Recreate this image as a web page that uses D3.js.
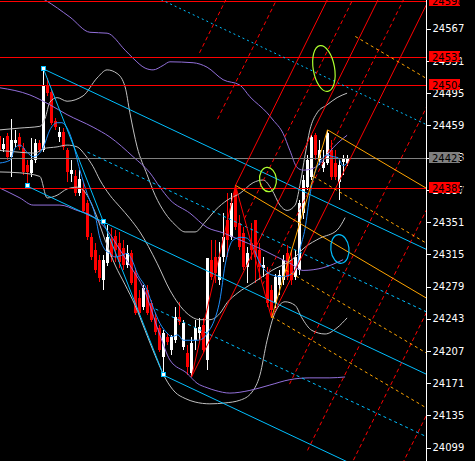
<!DOCTYPE html>
<html><head><meta charset="utf-8">
<script src="https://cdn.jsdelivr.net/npm/d3@7"></script>
<style>html,body{margin:0;padding:0;background:#000;overflow:hidden}</style>
</head><body>
<svg id="c" width="475" height="461"></svg>
<script>
// ---------- DATA ----------
const opens  = [24447,24433,24447,24424,24439,24446,24434,24415,24406,24420,24439,24431,24504,24496,24464,24446,24452,24431,24405,24402,24383,24387,24372,24334,24320,24309,24286,24305,24332,24335,24328,24322,24303,24316,24294,24266,24256,24275,24261,24244,24233,24200,24223,24208,24219,24245,24211,24205,24182,24219,24227,24236,24197,24309,24312,24286,24312,24353,24334,24387,24350,24339,24301,24328,24353,24320,24300,24294,24275,24261,24281,24286,24316,24309,24290,24297,24361,24390,24401,24448,24420,24411,24417,24431,24417,24396,24418,24417];
const highs  = [24450,24445,24450,24466,24454,24450,24439,24420,24445,24444,24443,24522,24512,24498,24467,24457,24456,24434,24420,24409,24409,24396,24376,24339,24328,24314,24314,24348,24344,24342,24340,24331,24325,24320,24300,24275,24281,24281,24264,24250,24236,24230,24227,24225,24256,24262,24242,24214,24223,24242,24244,24244,24311,24331,24331,24329,24361,24383,24383,24392,24359,24345,24323,24350,24353,24328,24312,24301,24281,24293,24297,24314,24325,24320,24320,24376,24404,24426,24448,24450,24443,24431,24454,24443,24431,24420,24426,24426];
const lows   = [24428,24429,24420,24401,24435,24431,24404,24391,24401,24417,24429,24429,24492,24459,24454,24440,24431,24396,24396,24380,24380,24361,24331,24309,24294,24284,24275,24302,24306,24306,24300,24297,24300,24281,24247,24247,24253,24247,24239,24225,24206,24180,24214,24202,24216,24236,24208,24180,24178,24208,24219,24206,24186,24286,24283,24281,24306,24312,24331,24342,24320,24297,24283,24309,24283,24286,24290,24256,24244,24255,24270,24281,24286,24281,24286,24292,24355,24387,24398,24420,24415,24407,24415,24398,24398,24376,24404,24414];
const closes = [24431,24438,24424,24443,24443,24435,24407,24407,24420,24439,24431,24504,24495,24462,24457,24452,24435,24407,24409,24383,24399,24363,24334,24312,24297,24288,24309,24334,24312,24320,24306,24303,24317,24283,24249,24250,24277,24250,24242,24228,24208,24227,24217,24223,24245,24239,24238,24189,24216,24233,24234,24208,24311,24290,24294,24312,24334,24331,24372,24345,24323,24301,24316,24320,24312,24301,24303,24261,24253,24290,24292,24309,24290,24286,24312,24372,24398,24420,24446,24426,24431,24418,24450,24401,24401,24415,24422,24423];

const priceTicks = [24567,24531,24495,24459,24423,24387,24351,24315,24279,24243,24207,24171,24135,24099];
const redLevels  = [24598,24535,24504,24389];
const lastPrice  = 24423;

// indicator curves: [bar, price]
const maFast = [[0.1,24417],[2.6,24420],[3.9,24434],[5.1,24437],[6.9,24429],[8.4,24424],[9.6,24426],[10.9,24434],[12.6,24454],[14.4,24462],[15.6,24462],[16.9,24456],[18.1,24443],[20.1,24409],[21.9,24383],[23.9,24359],[25.1,24333],[26.4,24320],[27.6,24316],[28.9,24312],[30.6,24314],[31.9,24316],[33.1,24309],[34.4,24294],[36.9,24275],[38.4,24256],[40.1,24238],[41.9,24227],[43.1,24223],[44.6,24225],[45.9,24219],[47.6,24219],[49.4,24219],[50.9,24221],[52.1,24228],[53.4,24238],[55.1,24264],[56.4,24303],[58.4,24331],[60.4,24334],[61.9,24333],[63.4,24323],[65.1,24305],[66.9,24295],[68.9,24291],[70.6,24290],[72.6,24292],[74.4,24303],[75.1,24320],[76.4,24344],[77.6,24381],[78.9,24407],[80.1,24418],[81.9,24426],[83.4,24424],[84.6,24423],[85.9,24414],[86.9,24417]];
const bbUpper = [[0.1,24454],[5.1,24456],[10.1,24458],[11.4,24467],[12.6,24485],[14.4,24490],[16.9,24486],[20.9,24492],[24.4,24512],[26.9,24521],[29.4,24517],[31.4,24502],[32.6,24473],[34.4,24435],[36.9,24404],[38.9,24381],[41.4,24361],[43.9,24348],[46.4,24340],[48.9,24340],[51.4,24351],[53.9,24364],[57.1,24376],[60.1,24383],[63.4,24395],[65.9,24398],[68.1,24387],[70.1,24370],[71.9,24364],[73.9,24370],[75.1,24392],[76.4,24426],[77.6,24454],[79.4,24473],[81.9,24482],[84.4,24490],[86.9,24495]];
const bbMid = [[0.1,24431],[5.1,24429],[8.9,24428],[10.9,24433],[14.4,24435],[16.9,24437],[19.4,24435],[21.4,24426],[23.4,24413],[25.1,24398],[27.6,24381],[30.1,24368],[32.6,24355],[35.1,24340],[39.4,24305],[42.6,24275],[46.9,24249],[50.1,24242],[52.6,24242],[55.1,24249],[56.9,24261],[59.6,24272],[63.4,24283],[68.1,24297],[73.1,24309],[76.4,24323],[80.1,24333],[84.4,24342],[86.4,24356]];
const bbLower = [[0.1,24407],[5.1,24406],[10.1,24402],[11.9,24378],[14.4,24381],[16.9,24388],[19.4,24390],[21.9,24381],[23.9,24362],[26.4,24331],[28.9,24303],[31.4,24281],[33.9,24258],[36.4,24230],[38.9,24202],[41.4,24177],[43.9,24161],[46.4,24154],[48.9,24150],[52.6,24148],[56.4,24149],[60.1,24152],[63.1,24161],[65.1,24180],[66.9,24219],[68.9,24250],[71.4,24262],[73.9,24258],[75.6,24244],[78.1,24230],[81.4,24226],[84.4,24233],[86.9,24244]];
const envUpper = [[0.1,24621],[7.6,24608],[11.4,24599],[17.6,24580],[22.6,24563],[26.9,24562],[31.4,24543],[33.4,24534],[36.4,24523],[38.4,24521],[40.9,24526],[42.6,24530],[48.4,24529],[51.9,24524],[55.9,24510],[60.1,24504],[62.6,24491],[66.9,24473],[68.4,24465],[70.9,24450],[72.6,24431],[74.4,24412],[75.9,24409],[78.4,24411],[80.9,24420],[83.4,24434],[86.9,24448]];
const envMid = [[0.1,24501],[7.6,24493],[12.6,24482],[16.9,24471],[23.4,24457],[27.6,24446],[33.4,24424],[37.6,24406],[40.1,24390],[42.6,24376],[47.6,24361],[51.9,24345],[55.9,24339],[60.1,24331],[64.4,24323],[69.4,24312],[72.6,24305],[75.9,24297],[80.9,24300],[85.9,24309]];
const envLower = [[0.1,24389],[5.1,24378],[8.4,24370],[15.1,24370],[19.4,24364],[23.4,24357],[26.9,24342],[30.1,24320],[33.4,24297],[35.9,24278],[40.1,24225],[42.6,24197],[46.9,24182],[49.4,24171],[51.9,24166],[53.9,24163],[57.6,24160],[62.6,24163],[67.6,24169],[72.6,24175],[77.6,24177],[82.6,24177],[86.4,24178]];

// equidistant channel (blue): anchors [bar, price]
const chanA = [7,24391], chanB = [26,24351], chanTop = [11,24522], chanBottom = [41,24180];
const chanLevels = [2,1,0.5,0,-0.5,-1];
const chanStarts = [11,11,22,7,39,41];

// pitchfork (red): anchors
const forkP0 = [48,24178], forkP1 = [59,24392], forkP2 = [68,24244];
const forkLevels = [-3,-2,-1,-0.5,0,0.5,1,2,3,4,5];

// orange channel: base through P1 and a second point, parallel through C
const orangeC = [82,24454], orangeBase2 = [106,24268];
const orangeLevels = [-1,0,0.5,1,1.5,2];

// ellipses: major-axis endpoints [bar1, price1, bar2, price2, minor/major]
const ellipses = [[80.1,24548,82.1,24497,0.46],[66.8,24412,67.45,24385,0.69],[84.7,24337,85.5,24305,0.63]];

// ---------- DRAW ----------
const W=475, H=461, R=426;
const svg = d3.select('#c');
svg.append('rect').attr('width',W).attr('height',H).attr('fill','#000');
const x = d3.scaleLinear().domain([0,87]).range([-0.5,347.5]);
const y = d3.scaleLinear().domain([24099,24567]).range([447.7,28.7]);

svg.append('clipPath').attr('id','clip').append('rect').attr('x',0).attr('y',0).attr('width',R).attr('height',H);
const g = svg.append('g').attr('clip-path','url(#clip)');

// candles
const bars = d3.range(opens.length).map(i=>({i,o:opens[i],h:highs[i],l:lows[i],c:closes[i]}));
const cg = g.append('g').attr('shape-rendering','crispEdges');
cg.selectAll('.w').data(bars).join('rect')
  .attr('x',d=>Math.round(x(d.i)-0.5)).attr('width',1)
  .attr('y',d=>Math.round(y(d.h))).attr('height',d=>Math.max(1,Math.round(y(d.l))-Math.round(y(d.h))))
  .attr('fill',d=>d.c>=d.o?'#fff':'#f00');
cg.selectAll('.b').data(bars).join('rect')
  .attr('x',d=>Math.round(x(d.i)-1.5)).attr('width',3)
  .attr('y',d=>Math.round(y(Math.max(d.o,d.c))))
  .attr('height',d=>Math.max(1,Math.round(y(Math.min(d.o,d.c)))-Math.round(y(Math.max(d.o,d.c)))))
  .attr('fill',d=>d.c>=d.o?'#fff':'#f00');

// indicator curves
const line = d3.line().x(d=>x(d[0])).y(d=>y(d[1])).curve(d3.curveMonotoneX);
const curve = (pts,col)=>g.append('path').attr('d',line(pts)).attr('fill','none').attr('stroke',col).attr('stroke-width',1);
curve(bbUpper,'#c0c0c0'); curve(bbMid,'#c0c0c0'); curve(bbLower,'#c0c0c0');
curve(envUpper,'#9370db'); curve(envMid,'#9370db'); curve(envLower,'#9370db');
curve(maFast,'#1e90ff');

function seg(x1,y1,x2,y2,col,dash){
  const l = g.append('line').attr('x1',x1).attr('y1',y1).attr('x2',x2).attr('y2',y2)
    .attr('stroke',col).attr('stroke-width',1);
  if(dash) l.attr('stroke-dasharray',dash);
}

// horizontal lines
redLevels.forEach(p=>{const yy=Math.round(y(p))+0.5; seg(0,yy,R,yy,'#ff0000');});
{const yy=Math.round(y(lastPrice))+0.5; seg(0,yy,R,yy,'#808080');}

// blue channel
const pt = a=>[x(a[0]),y(a[1])];
const pA=pt(chanA), pB=pt(chanB), pT=pt(chanTop), pBot=pt(chanBottom);
const cm=(pB[1]-pA[1])/(pB[0]-pA[0]);
const coff = pT[1]-(pA[1]+cm*(pT[0]-pA[0]));
chanLevels.forEach((k,j)=>{
  const sx=x(chanStarts[j]);
  const yy=X=>pA[1]+cm*(X-pA[0])+k*coff;
  const dash = (k===2)?'2,3':(Math.abs(k)===0.5?'3,3':null);
  seg(sx,yy(sx),R,yy(R),'#00bfff',dash);
});
seg(pT[0],pT[1],pBot[0],pBot[1],'#00bfff');

// red pitchfork
const q0=pt(forkP0), q1=pt(forkP1), q2=pt(forkP2);
const M=[(q1[0]+q2[0])/2,(q1[1]+q2[1])/2];
const dv=[M[0]-q0[0],M[1]-q0[1]];
forkLevels.forEach(j=>{
  const t=(j+1)/2;
  const s = j===0? q0 : [q1[0]+t*(q2[0]-q1[0]), q1[1]+t*(q2[1]-q1[1])];
  const k=(-5 - s[1])/dv[1];
  const dash = (j===-1||j===0||j===1)?null:'4,3';
  seg(s[0],s[1],s[0]+dv[0]*k,s[1]+dv[1]*k,'#ff0000',dash);
});
seg(q0[0],q0[1],q1[0],q1[1],'#ff0000');
seg(q1[0],q1[1],q2[0],q2[1],'#ff0000');

// orange channel
const qc=pt(orangeC), ob=pt(orangeBase2);
const om=(ob[1]-q1[1])/(ob[0]-q1[0]);
const base=X=>q1[1]+om*(X-q1[0]);
const u=base(qc[0])-qc[1];
const ddx=qc[0]-q2[0], ddy=qc[1]-q2[1];
orangeLevels.forEach(k=>{
  const yk=X=>base(X)-(1-k)*u;
  let sx;
  if(k===1) sx=q1[0]; else if(k===0) sx=qc[0];
  else { const t=(q2[1]+(1-k)*u-base(q2[0]))/(om*ddx-ddy); sx=q2[0]+t*ddx; }
  const dash=(k===0||k===1)?null:'3,3';
  seg(sx,yk(sx),R,yk(R),'#ffa500',dash);
});
seg(q2[0],q2[1],qc[0],qc[1],'#ffa500');

// ellipses
const ecols=['#adff2f','#adff2f','#00bfff'];
ellipses.forEach((e,i)=>{
  const a=[x(e[0]),y(e[1])], b=[x(e[2]),y(e[3])];
  const cx=(a[0]+b[0])/2, cy=(a[1]+b[1])/2;
  const len=Math.hypot(b[0]-a[0],b[1]-a[1])/2;
  const ang=Math.atan2(b[1]-a[1],b[0]-a[0])*180/Math.PI;
  g.append('ellipse').attr('cx',0).attr('cy',0).attr('rx',len).attr('ry',len*e[4])
    .attr('transform',`translate(${cx},${cy}) rotate(${ang})`)
    .attr('fill','none').attr('stroke',ecols[i]).attr('stroke-width',1.2);
});

// markers
[chanA,chanB,chanTop,chanBottom].forEach(a=>{
  const p=pt(a), cx=Math.round(p[0]), cy=Math.round(p[1]);
  g.append('rect').attr('x',cx-3).attr('y',cy-3).attr('width',5).attr('height',5).attr('fill','#00bfff').attr('shape-rendering','crispEdges');
  g.append('rect').attr('x',cx-2).attr('y',cy-2).attr('width',3).attr('height',3).attr('fill','#fff').attr('shape-rendering','crispEdges');
});

// axis
svg.append('line').attr('x1',R+0.5).attr('x2',R+0.5).attr('y1',0).attr('y2',H).attr('stroke','#fff').attr('shape-rendering','crispEdges');
const ax = svg.append('g').attr('transform',`translate(${R+0.5},0)`)
  .call(d3.axisRight(y).tickValues(priceTicks).tickSize(4).tickPadding(2).tickFormat(d3.format('d')));
ax.select('.domain').remove();
ax.selectAll('line').attr('stroke','#fff').attr('shape-rendering','crispEdges');
ax.selectAll('text').attr('fill','#fff').attr('font-family','DejaVu Sans').attr('font-size',10);

// price boxes
const box=(p,col)=>{
  const yy=Math.round(y(p));
  svg.append('rect').attr('x',429).attr('y',yy-6).attr('width',31).attr('height',11).attr('fill',col);
  svg.append('text').attr('x',432).attr('y',yy+3.5).text(p).attr('fill','#000')
    .attr('font-family','DejaVu Sans').attr('font-size',10);
};
redLevels.forEach(p=>box(p,'#ff0000'));
box(lastPrice,'#808080');
</script>
</body></html>
